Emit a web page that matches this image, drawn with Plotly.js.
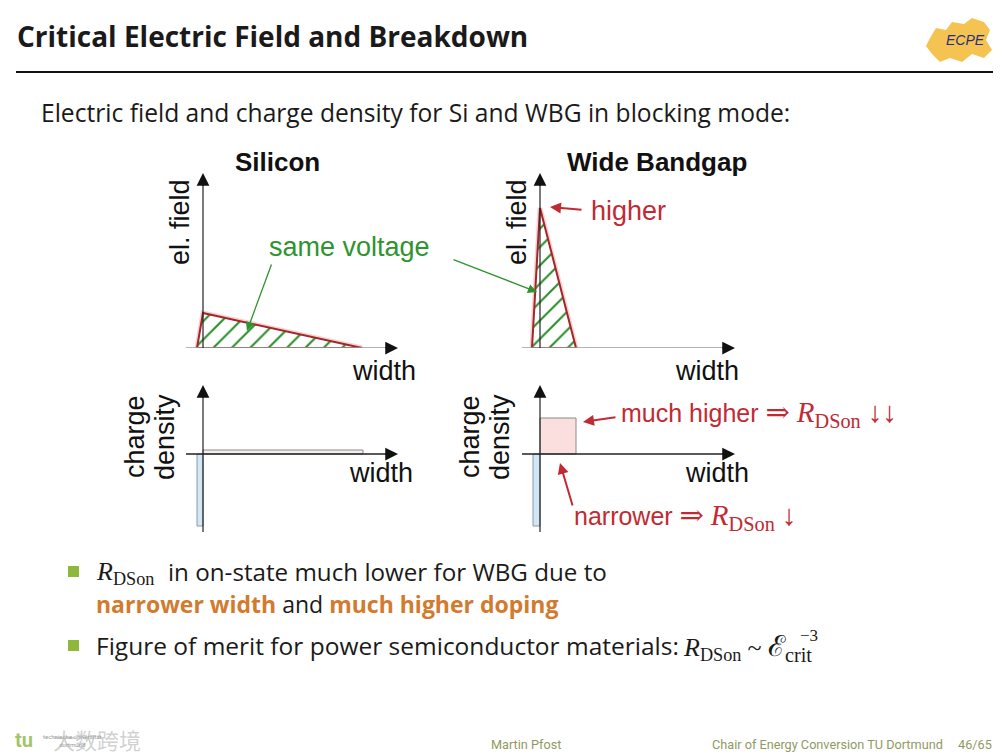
<!DOCTYPE html>
<html><head><meta charset="utf-8">
<script src="https://cdn.plot.ly/plotly-3.0.1.min.js"></script>
<style>html,body{margin:0;padding:0;background:#fff;}#chart{width:1008px;height:756px;}</style>
</head><body><div id="chart"></div>
<script>
// ---------- data (arbitrary units) ----------
// electric field profiles (width, field) : triangle vertices
const siFieldWidth  = [-0.375, 0, 9.9375];
const siField       = [0, 1, 0];
const wbgFieldWidth = [-0.5, 0, 2.25];
const wbgField      = [0, 4, 0];
// charge density blocks: [p+ side, drift region]
const siChargeWidth   = [-0.375, 10];
const siChargeDensity = [-18, 1];
const wbgChargeWidth   = [-0.4375, 2.25];
const wbgChargeDensity = [-18, 9];
// axis ranges
const fieldXRangeSi  = [-1.0625, 12.1875];
const fieldXRangeWbg = [-1.125, 12.1875];
const fieldYRange    = [0, 5];
const chargeYRange   = [-19.5, 17.25];

const W = 1008, H = 756;
const X = p => p / W, Y = p => 1 - p / H;

function closed(a){ return a.concat([a[0]]); }
function rect(w, d){ return {x:[0,0,w,w,0], y:[0,d,d,0,0]}; }

const RED = '#c22a33', GREEN = '#2f942f', DARKRED = '#a3262a';
const HATCH = {shape:'/', fgcolor:'#2c8c2c', bgcolor:'white', size:13, solidity:0.16};

const traces = [];
function field(xs, ys, xa, ya){
  traces.push({type:'scatter', mode:'lines', x:closed(xs), y:closed(ys), xaxis:xa, yaxis:ya,
    line:{color:'rgba(235,120,120,0.35)', width:5}, hoverinfo:'skip', showlegend:false});
  traces.push({type:'scatter', mode:'lines', x:closed(xs), y:closed(ys), xaxis:xa, yaxis:ya,
    fill:'toself', fillcolor:'white', fillpattern:HATCH,
    line:{color:DARKRED, width:2}, hoverinfo:'skip', showlegend:false});
}
field(siFieldWidth, siField, 'x', 'y');
field(wbgFieldWidth, wbgField, 'x2', 'y2');

function charge(ws, ds, xa, ya, posFill){
  const neg = rect(ws[0], ds[0]), pos = rect(ws[1], ds[1]);
  traces.push({type:'scatter', mode:'lines', x:neg.x, y:neg.y, xaxis:xa, yaxis:ya, fill:'toself',
    fillcolor:'#d3e6f6', line:{color:'#8a9aa8', width:1}, hoverinfo:'skip', showlegend:false});
  traces.push({type:'scatter', mode:'lines', x:pos.x, y:pos.y, xaxis:xa, yaxis:ya, fill:'toself',
    fillcolor:posFill, line:{color:'#8a8a8a', width:1}, hoverinfo:'skip', showlegend:false});
}
charge(siChargeWidth, siChargeDensity, 'x3', 'y3', '#f7eded');
charge(wbgChargeWidth, wbgChargeDensity, 'x4', 'y4', '#fbdfdf');

const hidden = {visible:false, fixedrange:true};
const layout = {
  width:W, height:H, margin:{l:0,r:0,t:0,b:0}, paper_bgcolor:'white', plot_bgcolor:'rgba(0,0,0,0)',
  showlegend:false, font:{family:'Liberation Sans, Arial, sans-serif', color:'#111'},
  xaxis: Object.assign({domain:[X(186),X(398)], range:fieldXRangeSi, anchor:'y'}, hidden),
  yaxis: Object.assign({domain:[Y(348),Y(173)], range:fieldYRange, anchor:'x'}, hidden),
  xaxis2:Object.assign({domain:[X(522),X(735)], range:fieldXRangeWbg, anchor:'y2'}, hidden),
  yaxis2:Object.assign({domain:[Y(348),Y(173)], range:fieldYRange, anchor:'x2'}, hidden),
  xaxis3:Object.assign({domain:[X(186),X(398)], range:fieldXRangeSi, anchor:'y3'}, hidden),
  yaxis3:Object.assign({domain:[Y(532),Y(385)], range:chargeYRange, anchor:'x3'}, hidden),
  xaxis4:Object.assign({domain:[X(522),X(735)], range:fieldXRangeWbg, anchor:'y4'}, hidden),
  yaxis4:Object.assign({domain:[Y(532),Y(385)], range:chargeYRange, anchor:'x4'}, hidden),
  shapes:[], annotations:[]
};
const S = layout.shapes, A = layout.annotations;

// axes with arrows
function axes(xs, ys, xr, yr, xColor){
  S.push({type:'line', xref:xs, yref:ys, x0:xr[0], x1:xr[1]-(xr[1]-xr[0])*0.03, y0:0, y1:0,
    line:{color:xColor, width:1.6}});
  S.push({type:'line', xref:xs, yref:ys, x0:0, x1:0, y0:yr[0], y1:yr[1]-(yr[1]-yr[0])*0.03,
    line:{color:'#222', width:1.2}});
  A.push({xref:xs, yref:ys, x:xr[1], y:0, ax:-14, ay:0, text:'', showarrow:true, arrowhead:2,
    arrowsize:1.7, arrowwidth:1.5, arrowcolor:'#111', standoff:0});
  A.push({xref:xs, yref:ys, x:0, y:yr[1], ax:0, ay:14, text:'', showarrow:true, arrowhead:2,
    arrowsize:1.7, arrowwidth:1.5, arrowcolor:'#111', standoff:0});
}
axes('x','y', fieldXRangeSi, fieldYRange, '#9a9a9a');
axes('x2','y2', fieldXRangeWbg, fieldYRange, '#9a9a9a');
axes('x3','y3', fieldXRangeSi, chargeYRange, '#222');
axes('x4','y4', fieldXRangeWbg, chargeYRange, '#222');

function txt(text, x, y, o){
  o = o || {};
  A.push({xref:'paper', yref:'paper', x:X(x), y:Y(y), text:text, showarrow:false,
    xanchor:o.xa||'center', yanchor:o.ya||'middle', textangle:o.angle||0, borderpad:0,
    font:{family:o.family||'Liberation Sans, Arial, sans-serif', size:o.size||27, color:o.color||'#111'}});
}
function arrow(hx, hy, tx, ty, color, w, s){
  A.push({xref:'paper', yref:'paper', x:X(hx), y:Y(hy), ax:tx-hx, ay:ty-hy, text:'', showarrow:true,
    arrowhead:2, arrowsize:s, arrowwidth:w, arrowcolor:color, standoff:0});
}

const BODY = "'Open Sans', sans-serif";
const SERIF = "'Liberation Serif', 'DejaVu Serif', serif";
const rds = sz => `<span style="font-family:${SERIF};font-size:${sz}px"><i>R</i><sub>DSon</sub></span>`;
const ser = (t, sz) => `<span style="font-family:${SERIF};font-size:${sz}px">${t}</span>`;
const INK = '#1a1a1a';

// header
txt('<b>Critical Electric Field and Breakdown</b>', 16, 36, {xa:'left', size:28, family:BODY, color:INK});
S.push({type:'line', xref:'paper', yref:'paper', x0:X(16), x1:X(993), y0:Y(72), y1:Y(72), line:{color:'#111', width:2}});
txt('Electric field and charge density for Si and WBG in blocking mode:', 40, 112, {xa:'left', size:24.6, family:BODY, color:INK});

// ECPE logo
const logoPts = [[930,38],[936,28],[946,30],[952,22],[964,24],[972,18],[984,22],[990,30],[986,40],[992,50],[984,58],[972,54],[962,62],[950,58],[940,62],[932,54],[926,46]];
S.push({type:'path', xref:'paper', yref:'paper', fillcolor:'rgba(243,184,52,0.85)', line:{width:0},
  path:'M' + logoPts.map(p => X(p[0]).toFixed(5) + ',' + Y(p[1]).toFixed(5)).join('L') + 'Z'});
txt('<i>ECPE</i>', 965, 40, {size:14, family:'Liberation Sans', color:'#2a2f7a'});

// diagram titles and labels
txt('<b>Silicon</b>', 277, 162, {size:26});
txt('<b>Wide Bandgap</b>', 657, 162, {size:26});
txt('el. field', 180, 222, {angle:-90});
txt('el. field', 517, 222, {angle:-90});
txt('width', 384, 371);
txt('width', 707, 371);
txt('width', 381, 473);
txt('width', 717, 473);
txt('charge', 135, 437, {angle:-90});
txt('density', 165, 437, {angle:-90});
txt('charge', 470, 437, {angle:-90});
txt('density', 500, 437, {angle:-90});

txt('same voltage', 349, 247, {color:GREEN});
arrow(247, 331, 272, 263, GREEN, 1.3, 1.4);
arrow(537, 292, 452, 259, GREEN, 1.3, 1.4);

txt('higher', 590, 211, {xa:'left', color:RED});
arrow(550, 207, 583, 210, RED, 2, 1.1);

txt(`much higher ${ser('⇒',29)} ${rds(29)} ${ser('↓↓',29)}`, 620, 414, {xa:'left', size:25, color:RED});
arrow(583, 422, 617, 417, RED, 2, 1.1);
txt(`narrower ${ser('⇒',29)} ${rds(29)} ${ser('↓',29)}`, 573, 517, {xa:'left', size:25, color:RED});
arrow(560, 463, 573, 507, RED, 2, 1.1);

// bullets
const BUL = '#8db83c', ORANGE = '#d27b2e';
[[566,577],[640,651]].forEach(b => S.push({type:'rect', xref:'paper', yref:'paper', x0:X(68), x1:X(79), y0:Y(b[1]), y1:Y(b[0]), fillcolor:BUL, line:{width:0}}));
txt(rds(26), 95, 573, {xa:'left', size:24, family:BODY, color:INK});
txt('in on-state much lower for WBG due to', 167, 571, {xa:'left', size:24.2, family:BODY, color:INK});
txt(`<span style="color:${ORANGE}"><b>narrower width</b></span> and <span style="color:${ORANGE}"><b>much higher doping</b></span>`, 95, 604, {xa:'left', size:23, family:BODY, color:INK});
txt('Figure of merit for power semiconductor materials:', 95, 645, {xa:'left', size:24.5, family:BODY, color:INK});
txt(`${rds(26)} ${ser('~', 26)} ${ser('ℰ<sub>crit</sub>', 29)}`, 682, 648, {xa:'left', size:24, family:BODY, color:INK});
txt('−3', 799, 635, {xa:'left', size:17, family:SERIF, color:INK});

// footer
const FOOT = '#8f9a62';
txt('Martin Pfost', 490, 744, {xa:'left', size:12.7, family:'Roboto', color:FOOT});
txt('Chair of Energy Conversion TU Dortmund', 711, 744, {xa:'left', size:12.7, family:'Roboto', color:FOOT});
txt('46/65', 993, 744, {xa:'right', size:12.7, family:'Roboto', color:FOOT});
txt('<b>tu</b>', 24, 740, {size:20, family:'Roboto', color:'rgba(120,170,40,0.7)'});
txt('technische universität<br>dortmund', 42, 740, {xa:'left', size:6, family:'Roboto', color:'#999'});
txt('大数跨境', 52, 739, {xa:'left', size:22, family:"'Noto Sans CJK SC'", color:'rgba(170,170,170,0.55)'});

Plotly.newPlot('chart', traces, layout, {staticPlot:true, displayModeBar:false});
</script></body></html>
